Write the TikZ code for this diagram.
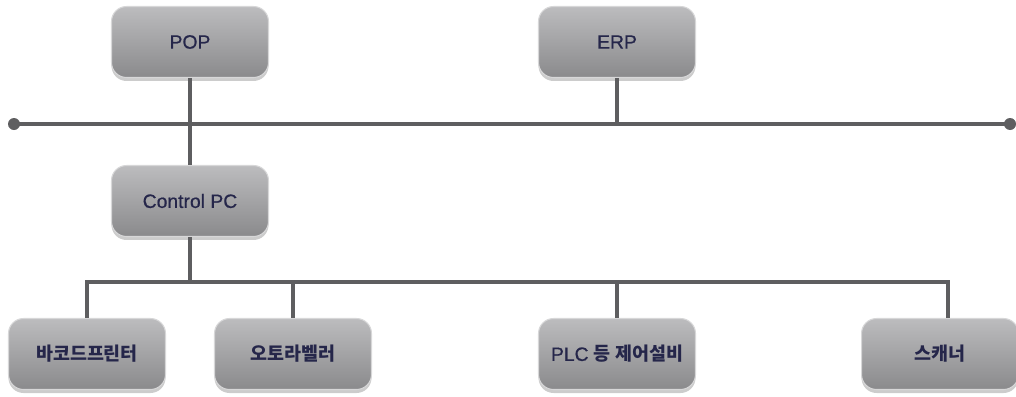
\documentclass[tikz,border=0pt]{standalone}
\usepackage{fontspec}
\setmainfont{Liberation Sans}[UprightFeatures={FakeBold=0.6}]
\newfontfamily\krfont{Noto Sans CJK KR}
\newcommand{\kr}[1]{{\krfont\bfseries\fontsize{10.5}{13}\selectfont #1}}
\usetikzlibrary{positioning, calc, shadows}
\definecolor{boxtop}{HTML}{BCBCBE}
\definecolor{boxbot}{HTML}{8A8A8C}
\definecolor{linecolor}{HTML}{5E5E60}
\definecolor{textcolor}{HTML}{25264A}

\begin{document}
\begin{tikzpicture}[x=0.02cm, y=-0.02cm,
    box/.style={rectangle, rounded corners=0.3cm, minimum width=3.14cm, minimum height=1.42cm,
      top color=boxtop, bottom color=boxbot, draw=boxtop!60!white, line width=0.6pt,
      drop shadow={shadow xshift=0pt, shadow yshift=-0.07cm, opacity=0.4},
      text=textcolor, font=\fontsize{11}{13}\selectfont},
    link/.style={draw=linecolor, line width=2.2pt}]

        \useasboundingbox (0,0) rectangle (1016,396);

        % Obere Ebene
        \node[box] (pop) at (190,42) {POP};
        \node[box] (erp) at (617,42) {ERP};

        % Bus
        \coordinate (busl) at (14,124);
        \coordinate (busr) at (1010,124);
        \draw[link] (busl) -- (busr);
        \fill[linecolor] (busl) circle (0.12cm);
        \fill[linecolor] (busr) circle (0.12cm);

        % Steuerrechner
        \node[box] (ctrl) at (190,201) {Control PC};

        % Untere Ebene
        \node[box] (barcode) at (87,354) {\kr{바코드프린터}};
        \node[box] (label) at (293,354) {\kr{오토라벨러}};
        \node[box] (plc) at (617,354) {PLC \kr{등 제어설비}};
        \node[box] (scan) at (940,354) {\kr{스캐너}};

        % Verbindungen
        \draw[link] (pop.south) -- (ctrl.north);
        \draw[link] (erp.south) -- (erp.south |- busl);
        \coordinate (split) at (190,282);
        \coordinate (scanin) at ($(scan.north)+(8,0)$);
        \draw[link] (ctrl.south) -- (split);
        \draw[link] (barcode.north) |- (scanin |- split) -- (scanin);
        \draw[link] (label.north) -- (label.north |- split);
        \draw[link] (plc.north) -- (plc.north |- split);

      \end{tikzpicture}
\end{document}
